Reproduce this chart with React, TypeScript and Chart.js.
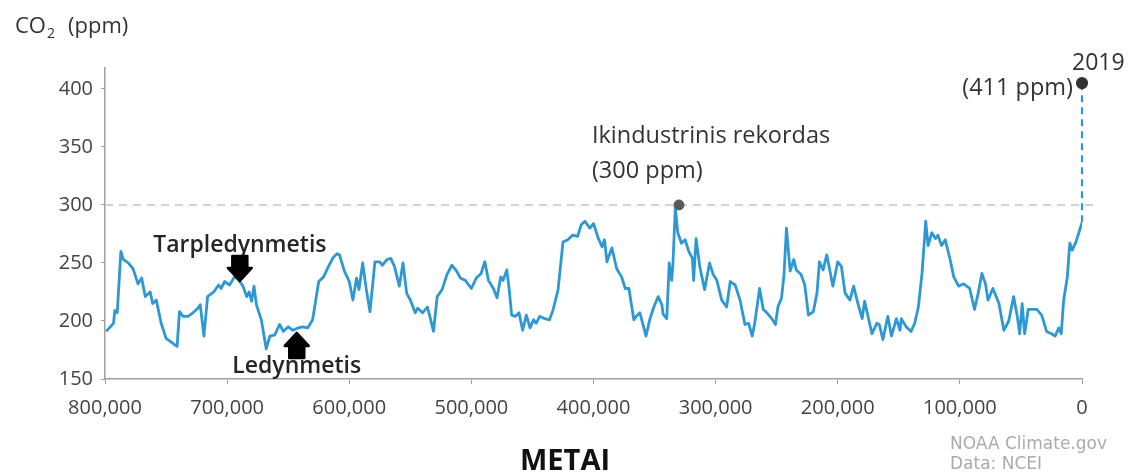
import React, { useEffect, useRef } from "react";
import { Chart, registerables } from "chart.js";

Chart.register(...registerables);

// Years before present (thousands of years) and CO2 concentration (ppm)
const kyrBP: number[] = [
  799, 793, 792, 790, 787, 785, 781, 777, 773, 770, 767, 763, 761, 758, 754, 750, 746, 741, 739, 736,
  732, 728, 724, 722, 719, 716, 711, 707, 705, 702, 698, 694, 691, 687, 684, 682, 680, 678, 676, 672,
  668, 665, 661, 657, 654, 650, 646, 642, 638, 634, 630, 625, 621, 617, 613, 610, 608, 604, 600, 597,
  594, 592, 589, 586, 583, 579, 575, 573, 569, 566, 563, 559, 556, 553, 550, 546, 544, 540, 536, 534,
  531, 528, 524, 520, 516, 512, 509, 505, 500, 496, 492, 489, 486, 482, 479, 476, 474, 471, 469, 467,
  464, 461, 458, 455, 452, 449, 447, 444, 440, 436, 433, 429, 425, 421, 417, 413, 410, 407, 403, 400,
  396, 393, 391, 389, 385, 381, 377, 374, 371, 367, 365, 362, 357, 354, 351, 347, 344, 343, 340, 338,
  336, 335, 333, 331, 328, 325, 322, 319, 318, 316, 313, 309, 305, 302, 299, 295, 291, 288, 284, 280,
  276, 273, 270, 268, 264, 261, 258, 254, 251, 249, 246, 244, 242, 239, 236, 234, 230, 227, 224, 220,
  217, 215, 212, 209, 206, 204, 200, 197, 194, 190, 187, 184, 180, 178, 172, 168, 166, 163, 159, 156,
  152, 149, 148, 144, 140, 137, 134, 131, 129, 128, 126, 123, 120, 118, 115, 112, 108, 105, 101, 97,
  92, 88, 85, 82, 79, 77, 73, 68, 64, 60, 56, 53, 51, 49, 47, 44, 37, 33, 29, 25,
  22, 19, 17, 15, 12, 10, 8, 5, 2, 0,
];

const co2Ppm: number[] = [
  191, 198, 209, 207, 260, 253, 250, 245, 232, 237, 221, 225, 215, 218, 198, 185, 182, 178, 208, 204,
  204, 207, 211, 214, 187, 221, 225, 231, 228, 234, 231, 238, 236, 230, 221, 225, 217, 230, 214, 201,
  176, 187, 188, 197, 191, 195, 192, 194, 195, 194, 201, 234, 238, 247, 255, 258, 257, 243, 234, 218,
  237, 227, 250, 227, 208, 251, 251, 248, 253, 254, 247, 230, 250, 224, 218, 207, 211, 207, 212, 204,
  191, 221, 227, 240, 248, 243, 237, 235, 228, 237, 241, 251, 235, 228, 220, 238, 235, 244, 227, 205,
  204, 207, 192, 205, 194, 201, 198, 204, 202, 201, 210, 227, 268, 270, 274, 273, 283, 286, 280, 284,
  271, 264, 270, 251, 263, 245, 238, 228, 228, 201, 204, 207, 187, 201, 211, 221, 214, 206, 202, 250,
  235, 248, 298, 276, 267, 270, 260, 254, 235, 271, 247, 227, 250, 240, 235, 218, 212, 234, 231, 218,
  197, 198, 187, 198, 228, 210, 207, 202, 197, 212, 220, 240, 280, 243, 253, 244, 240, 231, 205, 208,
  224, 251, 244, 257, 241, 230, 251, 247, 224, 218, 230, 217, 202, 217, 189, 198, 197, 184, 204, 187,
  202, 192, 202, 195, 191, 198, 212, 241, 270, 286, 265, 276, 271, 274, 265, 270, 253, 238, 230, 232,
  228, 210, 224, 241, 232, 218, 228, 215, 192, 200, 221, 204, 189, 215, 189, 210, 210, 205, 191, 189,
  187, 194, 189, 218, 238, 267, 261, 268, 278, 285,
];

// Modern measurement (2019) shown as a dashed jump at year 0
const modernYears: number[] = [0, 0];
const modernPpm: number[] = [285, 405];

// Pre-industrial record marker
const recordYear: number[] = [330000];
const recordPpm: number[] = [300];

const xTickValues: number[] = [800000, 700000, 600000, 500000, 400000, 300000, 200000, 100000, 0];
const yTickValues: number[] = [150, 200, 250, 300, 350, 400];
const referenceLevel = 300;

const BLUE = "#2d98d4";
const FONT = '"Open Sans", "Noto Sans", sans-serif';
const CREDIT_FONT = '17px "DejaVu Sans", sans-serif';

export default function App() {
  const ref = useRef<HTMLCanvasElement | null>(null);

  useEffect(() => {
    const canvas = ref.current;
    if (!canvas) return;

    const annotationPlugin = {
      id: "annotations",
      beforeDatasetsDraw(chart: any) {
        const { ctx, chartArea, scales } = chart;
        const y = scales.y.getPixelForValue(referenceLevel);
        ctx.save();
        ctx.strokeStyle = "#c4c4c4";
        ctx.lineWidth = 1.5;
        ctx.setLineDash([8, 6]);
        ctx.beginPath();
        ctx.moveTo(chartArea.left, y);
        ctx.lineTo(chartArea.right + 13, y);
        ctx.stroke();
        ctx.restore();
      },
      afterDraw(chart: any) {
        const { ctx, scales } = chart;
        const px = (yr: number) => scales.x.getPixelForValue(yr);
        const py = (v: number) => scales.y.getPixelForValue(v);
        ctx.save();
        ctx.textBaseline = "alphabetic";

        const text = (s: string, x: number, y: number, font: string, color: string, align: CanvasTextAlign) => {
          ctx.font = font;
          ctx.fillStyle = color;
          ctx.textAlign = align;
          ctx.fillText(s, x, y);
        };

        // y-axis unit label
        ctx.font = `22px ${FONT}`;
        ctx.fillStyle = "#333";
        ctx.textAlign = "left";
        ctx.fillText("CO", 15, 33);
        const coW = ctx.measureText("CO").width;
        ctx.font = `14px ${FONT}`;
        ctx.fillText("2", 15 + coW + 1, 38);
        ctx.font = `22px ${FONT}`;
        ctx.fillText("(ppm)", 68, 33);

        const drawArrow = (cx: number, tipY: number, dir: number) => {
          const headW = 12, headH = 13, bodyW = 7.5, bodyH = 12;
          const baseY = tipY - dir * headH;
          const endY = baseY - dir * bodyH;
          ctx.fillStyle = "#000";
          ctx.beginPath();
          ctx.moveTo(cx, tipY);
          ctx.lineTo(cx + headW, baseY);
          ctx.lineTo(cx + bodyW, baseY);
          ctx.lineTo(cx + bodyW, endY);
          ctx.lineTo(cx - bodyW, endY);
          ctx.lineTo(cx - bodyW, baseY);
          ctx.lineTo(cx - headW, baseY);
          ctx.closePath();
          ctx.fill();
          ctx.strokeStyle = "#000";
          ctx.lineJoin = "round";
          ctx.lineWidth = 2.5;
          ctx.stroke();
        };

        // Interglacial label + down arrow
        text("Tarpledynmetis", px(689600), py(259.5), `600 23px ${FONT}`, "#262626", "center");
        drawArrow(px(689600), py(234.5), 1);

        // Glacial label + up arrow
        drawArrow(px(643000), py(189.7), -1);
        text("Ledynmetis", px(643000), py(155.2), `600 23px ${FONT}`, "#262626", "center");

        // Pre-industrial record
        text("Ikindustrinis rekordas", px(401300), py(353.4), `23.5px ${FONT}`, "#333", "left");
        text("(300 ppm)", px(401300), py(323.3), `23.5px ${FONT}`, "#333", "left");

        // 2019
        text("2019", px(8190), py(416.4), `23px ${FONT}`, "#333", "left");
        text("(411 ppm)", px(7370), py(394.8), `23.5px ${FONT}`, "#333", "right");

        // Axis title and credit
        text("METAI", 520, 470, `bold 29px ${FONT}`, "#111", "left");
        text("NOAA Climate.gov", 950, 449, CREDIT_FONT, "#ababab", "left");
        text("Data: NCEI", 950, 469, CREDIT_FONT, "#ababab", "left");

        ctx.restore();
      },
    };

    const chart = new Chart(canvas, {
      type: "line",
      data: {
        datasets: [
          {
            label: "record",
            data: recordYear.map((x, i) => ({ x, y: recordPpm[i] })),
            showLine: false,
            pointRadius: 5,
            pointBackgroundColor: "#5a5a5a",
            pointBorderColor: "#5a5a5a",
            clip: false as any,
          },
          {
            label: "2019",
            data: modernYears.map((x, i) => ({ x, y: modernPpm[i] })),
            borderColor: BLUE,
            borderWidth: 2.2,
            borderDash: [7, 5],
            pointRadius: [0, 5],
            pointBackgroundColor: "#333",
            pointBorderColor: "#333",
            clip: false as any,
          },
          {
            label: "CO2",
            data: kyrBP.map((k, i) => ({ x: k * 1000, y: co2Ppm[i] })),
            borderColor: BLUE,
            borderWidth: 2.8,
            pointRadius: 0,
            tension: 0,
            borderJoinStyle: "round",
          },
        ],
      },
      options: {
        animation: false,
        responsive: false,
        devicePixelRatio: 1,
        layout: { padding: { left: 0, top: 68, right: 61, bottom: 0 } },
        plugins: { legend: { display: false }, tooltip: { enabled: false } },
        scales: {
          x: {
            type: "linear",
            reverse: true,
            min: 0,
            max: 800000,
            afterBuildTicks: (scale: any) => {
              scale.ticks = xTickValues.map((value) => ({ value }));
            },
            afterFit: (scale: any) => {
              scale.height = 97;
            },
            ticks: {
              autoSkip: false,
              maxRotation: 0,
              padding: 12,
              color: "#444",
              font: { family: FONT, size: 20 },
              callback: (v: any) => Number(v).toLocaleString("en-US"),
            },
            grid: { drawOnChartArea: false, drawTicks: true, tickLength: 5, tickColor: "#a0a0a0" },
            border: { display: true, color: "#a0a0a0", width: 1.5 },
          },
          y: {
            min: 150,
            max: 418,
            afterBuildTicks: (scale: any) => {
              scale.ticks = yTickValues.map((value) => ({ value }));
            },
            afterFit: (scale: any) => {
              scale.width = 105;
            },
            ticks: {
              padding: 8,
              color: "#444",
              font: { family: FONT, size: 20 },
            },
            grid: { drawOnChartArea: false, drawTicks: true, tickLength: 4, tickColor: "#a0a0a0" },
            border: { display: true, color: "#a0a0a0", width: 1.5 },
          },
        },
      },
      plugins: [annotationPlugin],
    } as any);

    return () => chart.destroy();
  }, []);

  return (
    <canvas
      ref={ref}
      width={1143}
      height={476}
      style={{ position: "absolute", left: 0, top: 0, display: "block", background: "#fff" }}
    />
  );
}
